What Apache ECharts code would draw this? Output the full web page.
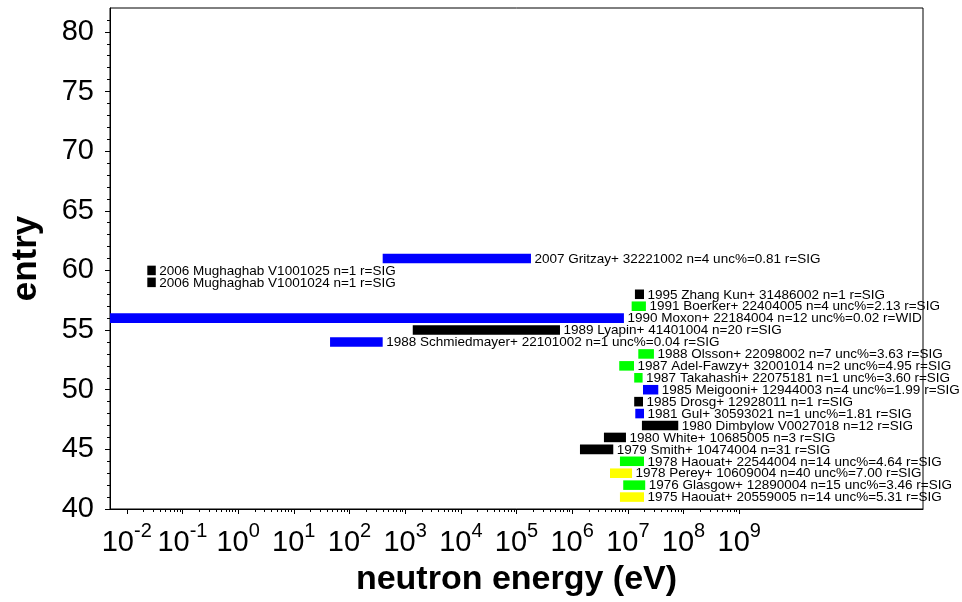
<!DOCTYPE html>
<html><head><meta charset="utf-8">
<script src="https://cdn.jsdelivr.net/npm/echarts@6/dist/echarts.min.js"></script>
<style>html,body{margin:0;padding:0;background:#fff}#c{width:962px;height:602px}</style>
</head><body><div id="c"></div>
<script>
// ---- data ----
const entryLabels = [
  "2007 Gritzay+ 32221002 n=4 unc%=0.81 r=SIG",
  "2006 Mughaghab V1001025 n=1 r=SIG",
  "2006 Mughaghab V1001024 n=1 r=SIG",
  "1995 Zhang Kun+ 31486002 n=1 r=SIG",
  "1991 Boerker+ 22404005 n=4 unc%=2.13 r=SIG",
  "1990 Moxon+ 22184004 n=12 unc%=0.02 r=WID",
  "1989 Lyapin+ 41401004 n=20 r=SIG",
  "1988 Schmiedmayer+ 22101002 n=1 unc%=0.04 r=SIG",
  "1988 Olsson+ 22098002 n=7 unc%=3.63 r=SIG",
  "1987 Adel-Fawzy+ 32001014 n=2 unc%=4.95 r=SIG",
  "1987 Takahashi+ 22075181 n=1 unc%=3.60 r=SIG",
  "1985 Meigooni+ 12944003 n=4 unc%=1.99 r=SIG",
  "1985 Drosg+ 12928011 n=1 r=SIG",
  "1981 Gul+ 30593021 n=1 unc%=1.81 r=SIG",
  "1980 Dimbylow V0027018 n=12 r=SIG",
  "1980 White+ 10685005 n=3 r=SIG",
  "1979 Smith+ 10474004 n=31 r=SIG",
  "1978 Haouat+ 22544004 n=14 unc%=4.64 r=SIG",
  "1978 Perey+ 10609004 n=40 unc%=7.00 r=SIG",
  "1976 Glasgow+ 12890004 n=15 unc%=3.46 r=SIG",
  "1975 Haouat+ 20559005 n=14 unc%=5.31 r=SIG"
];
const entryIndex = [61,60,59,58,57,56,55,54,53,52,51,50,49,48,47,46,45,44,43,42,41];
const energyLow  = [395, 0.0234, 0.0234, 1.34e7, 1.17e7, 0.005, 1.37e3, 44.8, 1.54e7, 7.0e6, 1.30e7, 1.87e7, 1.30e7, 1.36e7, 1.79e7, 3.72e6, 1.38e6, 7.21e6, 4.78e6, 8.26e6, 7.21e6];
const energyHigh = [1.82e5, 0.0332, 0.0332, 1.95e7, 2.11e7, 8.5e6, 6.04e5, 395, 2.94e7, 1.29e7, 1.84e7, 3.52e7, 1.87e7, 1.95e7, 8.04e7, 9.25e6, 5.47e6, 1.95e7, 1.19e7, 2.05e7, 1.95e7];
const entryColors = ["#0000ff","#000000","#000000","#000000","#00ff00","#0000ff","#000000","#0000ff","#00ff00","#00ff00","#00ff00","#0000ff","#000000","#0000ff","#000000","#000000","#000000","#00ff00","#ffff00","#00ff00","#ffff00"];
const xMajorTicks = [1e-2,1e-1,1e0,1e1,1e2,1e3,1e4,1e5,1e6,1e7,1e8,1e9];
const xMinorTicks = [];
xMajorTicks.slice(0, -1).forEach(d => { for (let k = 2; k <= 9; k++) xMinorTicks.push(d * k); });
const yMinorTicks = [];
for (let v = 41; v <= 81; v++) if (v % 5 !== 0) yMinorTicks.push(v);

const X_MIN = 0.005, X_MAX = 2e12, Y_MIN = 40, Y_MAX = 82;
const FONT = '"Liberation Sans", Arial, sans-serif';

const chart = echarts.init(document.getElementById('c'), null, {renderer: 'canvas'});
const seriesData = entryLabels.map((_, i) => [energyLow[i], energyHigh[i], entryIndex[i], i]);

chart.setOption({
  animation: false,
  backgroundColor: '#fff',
  grid: {left: 110, right: 39, top: 8, bottom: 92, show: true, borderColor: '#000', borderWidth: 1, backgroundColor: 'transparent'},
  xAxis: [{
    type: 'log', min: X_MIN, max: X_MAX, position: 'bottom',
    name: 'neutron energy (eV)', nameLocation: 'middle', nameGap: 54,
    nameTextStyle: {fontSize: 34, fontWeight: 'bold', fontFamily: FONT, color: '#000'},
    axisLine: {show: true, onZero: false, lineStyle: {color: '#000', width: 1}},
    axisTick: {show: true, length: 5, customValues: xMajorTicks, lineStyle: {color: '#000'}},
    axisLabel: {
      customValues: xMajorTicks, margin: 12, color: '#000',
      formatter: v => '{b|10}{s|' + Math.round(Math.log10(v)) + '}',
      rich: {
        b: {fontSize: 29, fontFamily: FONT, color: '#000', verticalAlign: 'bottom', padding: [7, 0, 0, 0]},
        s: {fontSize: 20, fontFamily: FONT, color: '#000', verticalAlign: 'top'}
      }
    },
    splitLine: {show: false}, minorTick: {show: false}
  }, {
    type: 'log', min: X_MIN, max: X_MAX, position: 'bottom', gridIndex: 0,
    axisLine: {show: false}, axisLabel: {show: false}, splitLine: {show: false},
    axisTick: {show: true, length: 3, customValues: xMinorTicks, lineStyle: {color: '#000'}}
  }],
  yAxis: [{
    type: 'value', min: Y_MIN, max: Y_MAX, interval: 5, position: 'left',
    name: 'entry', nameLocation: 'middle', nameGap: 66, nameRotate: 90,
    nameTextStyle: {fontSize: 35, fontWeight: 'bold', fontFamily: FONT, color: '#000'},
    axisLine: {show: true, onZero: false, lineStyle: {color: '#000', width: 1}},
    axisTick: {show: true, length: 5, lineStyle: {color: '#000'}},
    axisLabel: {fontSize: 29, fontFamily: FONT, color: '#000', margin: 16},
    splitLine: {show: false}
  }, {
    type: 'value', min: Y_MIN, max: Y_MAX, position: 'left', gridIndex: 0,
    axisLine: {show: false}, axisLabel: {show: false}, splitLine: {show: false},
    axisTick: {show: true, length: 3, customValues: yMinorTicks, lineStyle: {color: '#000'}}
  }],
  series: [{
    type: 'custom', xAxisIndex: 0, yAxisIndex: 0, clip: false,
    encode: {x: [0, 1], y: 2},
    data: seriesData,
    renderItem: function (params, api) {
      const lo = api.value(0), hi = api.value(1), y = api.value(2), i = api.value(3);
      const a = api.coord([lo, y + 0.4]);
      const b = api.coord([hi, y - 0.4]);
      return {type: 'group', children: [
        {type: 'rect', shape: {x: a[0], y: a[1], width: b[0] - a[0], height: b[1] - a[1]}, style: {fill: entryColors[i]}},
        {type: 'text', x: b[0] + 3.5, y: (a[1] + b[1]) / 2 + 0.5,
         style: {text: entryLabels[i], fill: '#000', fontSize: 13.5, fontFamily: FONT, align: 'left', verticalAlign: 'middle'}}
      ]};
    }
  }]
});
</script></body></html>
